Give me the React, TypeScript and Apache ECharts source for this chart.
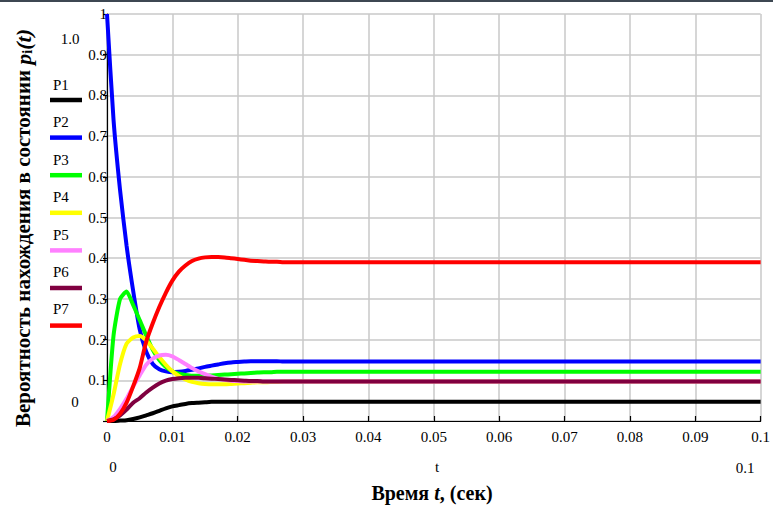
import React, { useEffect, useRef } from 'react';
import * as echarts from 'echarts';

// time points (s)
const times = [
  0, 0.001, 0.002, 0.003, 0.004, 0.005, 0.006, 0.007, 0.008, 0.009,
  0.01, 0.011, 0.012, 0.013, 0.014, 0.015, 0.016, 0.017, 0.018, 0.019,
  0.02, 0.021, 0.022, 0.023, 0.024, 0.025, 0.026, 0.027, 0.028, 0.029,
  0.03, 0.04, 0.05, 0.06, 0.07, 0.08, 0.09, 0.1,
];

const seriesNames = ['P1', 'P2', 'P3', 'P4', 'P5', 'P6', 'P7'];
const seriesColors = ['#000000', '#0000ff', '#00ff00', '#ffff00', '#ff80ff', '#800040', '#ff0000'];

const p1 = [
  0, 0, 0.001, 0.002, 0.005, 0.009, 0.014, 0.019, 0.025, 0.031,
  0.036, 0.039, 0.042, 0.044, 0.045, 0.046, 0.047, 0.047, 0.047, 0.047,
  0.047, 0.047, 0.047, 0.047, 0.047, 0.047, 0.047, 0.047, 0.047, 0.047,
  0.047, 0.047, 0.047, 0.047, 0.047, 0.047, 0.047, 0.047,
];
const p2 = [
  1.0, 0.74, 0.567, 0.43, 0.32, 0.225, 0.17, 0.14, 0.127, 0.122,
  0.12, 0.121, 0.123, 0.126, 0.129, 0.133, 0.136, 0.139, 0.142, 0.144,
  0.145, 0.146, 0.147, 0.147, 0.147, 0.147, 0.147, 0.146, 0.146, 0.146,
  0.146, 0.146, 0.146, 0.146, 0.146, 0.146, 0.146, 0.146,
];
const p3 = [
  0, 0.21, 0.30, 0.318, 0.285, 0.248, 0.21, 0.175, 0.15, 0.133,
  0.122, 0.116, 0.113, 0.111, 0.111, 0.111, 0.112, 0.113, 0.114, 0.115,
  0.116, 0.117, 0.118, 0.119, 0.12, 0.12, 0.121, 0.121, 0.121, 0.121,
  0.121, 0.121, 0.121, 0.121, 0.121, 0.121, 0.121, 0.121,
];
const p4 = [
  0, 0.065, 0.14, 0.19, 0.205, 0.209, 0.198, 0.178, 0.157, 0.138,
  0.122, 0.111, 0.102, 0.096, 0.093, 0.091, 0.09, 0.09, 0.09, 0.091,
  0.092, 0.093, 0.094, 0.095, 0.095, 0.096, 0.096, 0.097, 0.097, 0.097,
  0.097, 0.097, 0.097, 0.097, 0.097, 0.097, 0.097, 0.097,
];
const p5 = [
  0, 0.01, 0.03, 0.055, 0.085, 0.112, 0.138, 0.153, 0.161, 0.163,
  0.159, 0.15, 0.14, 0.13, 0.122, 0.115, 0.109, 0.104, 0.101, 0.099,
  0.098, 0.097, 0.097, 0.097, 0.097, 0.097, 0.097, 0.097, 0.097, 0.097,
  0.097, 0.097, 0.097, 0.097, 0.097, 0.097, 0.097, 0.097,
];
const p6 = [
  0, 0.004, 0.014, 0.028, 0.045, 0.056, 0.07, 0.082, 0.092, 0.099,
  0.103, 0.105, 0.106, 0.106, 0.106, 0.105, 0.104, 0.103, 0.102, 0.101,
  0.1, 0.099, 0.098, 0.098, 0.097, 0.097, 0.097, 0.097, 0.097, 0.097,
  0.097, 0.097, 0.097, 0.097, 0.097, 0.097, 0.097, 0.097,
];
const p7 = [
  0, 0.003, 0.018, 0.045, 0.085, 0.13, 0.195, 0.24, 0.28, 0.315,
  0.345, 0.367, 0.382, 0.393, 0.399, 0.402, 0.403, 0.403, 0.402, 0.4,
  0.398, 0.396, 0.394, 0.393, 0.392, 0.391, 0.391, 0.39, 0.39, 0.39,
  0.39, 0.39, 0.39, 0.39, 0.39, 0.39, 0.39, 0.39,
];
const seriesValues = [p1, p2, p3, p4, p5, p6, p7];

const serif = 'Liberation Serif';

export default function App() {
  const ref = useRef<HTMLDivElement>(null);

  useEffect(() => {
    if (!ref.current) return;
    const chart = echarts.init(ref.current, null, { renderer: 'svg' });

    const txt = (text: string, x: number, y: number, size = 15) => ({
      type: 'text',
      x,
      y,
      style: { text, fontFamily: serif, fontSize: size, fill: '#000', align: 'center', verticalAlign: 'middle' },
    });

    const legendGraphics: any[] = [];
    seriesNames.forEach((name, i) => {
      legendGraphics.push({
        type: 'text',
        x: 53,
        y: 85 + 37.4 * i,
        style: { text: name, fontFamily: serif, fontSize: 15, fill: '#000', verticalAlign: 'middle' },
      });
      legendGraphics.push({
        type: 'line',
        shape: { x1: 50, y1: 100 + 37.6 * i, x2: 82, y2: 100 + 37.6 * i },
        style: { stroke: seriesColors[i], lineWidth: 4.5 },
      });
    });

    const option: any = {
      animation: false,
      backgroundColor: '#ffffff',
      textStyle: { fontFamily: serif },
      grid: { left: 107, right: 10, top: 14, bottom: 85, containLabel: false },
      xAxis: {
        type: 'value',
        min: 0,
        max: 0.1,
        interval: 0.01,
        axisLine: { show: true, onZero: false, lineStyle: { color: '#000', width: 1.2 } },
        axisTick: { show: true, inside: true, length: 5, lineStyle: { color: '#000', width: 1.2 } },
        axisLabel: {
          color: '#000',
          fontFamily: serif,
          fontSize: 15,
          margin: 8,
          formatter: (v: number) => String(Math.round(v * 100) / 100),
        },
        splitLine: { show: true, lineStyle: { color: '#c8c8c8', width: 1.5 } },
      },
      yAxis: {
        type: 'value',
        min: 0,
        max: 1,
        interval: 0.1,
        axisLine: { show: true, onZero: false, lineStyle: { color: '#000', width: 1.2 } },
        axisTick: { show: true, inside: false, length: 4, lineStyle: { color: '#000', width: 1.2 } },
        axisLabel: {
          color: '#000',
          fontFamily: serif,
          fontSize: 15,
          margin: 0,
          padding: [8, 0, 0, 0],
          formatter: (v: number) => (v === 0 ? '' : String(Math.round(v * 10) / 10)),
        },
        splitLine: { show: true, lineStyle: { color: '#c8c8c8', width: 1.5 } },
      },
      series: seriesNames.map((name, i) => ({
        name,
        type: 'line',
        data: times.map((t, k) => [t, seriesValues[i][k]]),
        showSymbol: false,
        symbol: 'none',
        smooth: 0.2,
        lineStyle: { color: seriesColors[i], width: 4 },
        itemStyle: { color: seriesColors[i] },
      })),
      graphic: [
        { type: 'rect', shape: { x: 0, y: 0, width: 773, height: 2 }, style: { fill: '#3d4752' } },
        ...legendGraphics,
        txt('1.0', 70, 39),
        txt('0', 75, 402),
        txt('0', 113, 467),
        txt('t', 437, 467),
        txt('0.1', 745, 468),
        {
          type: 'text',
          x: 432,
          y: 493,
          style: {
            text: '{a|Время }{b|t}{a|, (сек)}',
            align: 'center',
            verticalAlign: 'middle',
            rich: {
              a: { fontFamily: serif, fontSize: 20, fontWeight: 'bold', fill: '#000' },
              b: { fontFamily: serif, fontSize: 20, fontWeight: 'bold', fontStyle: 'italic', fill: '#000' },
            },
          },
        },
        {
          type: 'text',
          x: 23,
          y: 228,
          rotation: Math.PI / 2,
          style: {
            text: '{a|Вероятность нахождения в состоянии }{b|p}{c|i}{b|(t)}',
            align: 'center',
            verticalAlign: 'middle',
            rich: {
              a: { fontFamily: serif, fontSize: 21, fontWeight: 'bold', fill: '#000' },
              b: { fontFamily: serif, fontSize: 22, fontWeight: 'bold', fontStyle: 'italic', fill: '#000' },
              c: { fontFamily: serif, fontSize: 14, fontWeight: 'bold', fill: '#000', verticalAlign: 'bottom', padding: [7, 0, 0, 0] },
            },
          },
        },
      ],
    };

    chart.setOption(option);
    return () => chart.dispose();
  }, []);

  return <div ref={ref} style={{ position: 'absolute', left: 0, top: 0, width: 773, height: 506 }} />;
}
